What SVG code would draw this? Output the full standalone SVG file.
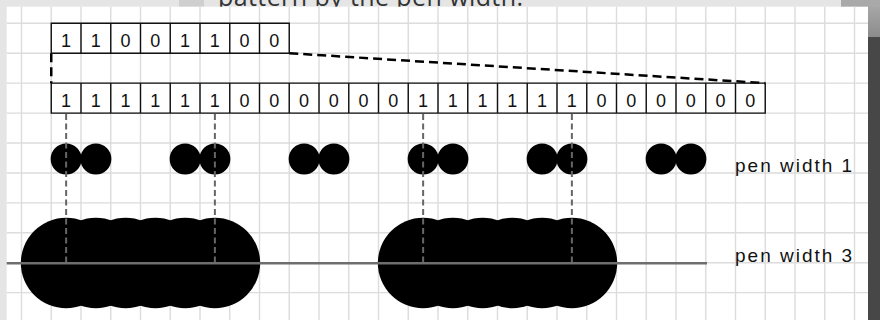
<svg xmlns="http://www.w3.org/2000/svg" width="880" height="320" viewBox="0 0 880 320">
  <style>
    .grid { stroke: #dcdcdc; stroke-width: 1.4; fill: none; }
    .cell { fill: none; stroke: #111; stroke-width: 1.4; }
    .bit { font-family: "Liberation Sans", Arial, sans-serif; font-size: 18px; fill: #111; text-anchor: middle; }
    .lbl { font-family: "Liberation Sans", Arial, sans-serif; font-size: 19px; fill: #111; letter-spacing: 2px; }
    .link { fill: none; stroke: #000; stroke-width: 2.5; stroke-dasharray: 9 5; }
    .guide { fill: none; stroke: #666; stroke-width: 2; stroke-dasharray: 6 3.5; }
    .axis { stroke: #6e6e6e; stroke-width: 2.5; }
    .dot { fill: #000; }
  </style>
  <defs>
    <linearGradient id="strip" x1="0" y1="0" x2="0" y2="1">
      <stop offset="0" stop-color="#a6a6a6"/>
      <stop offset="1" stop-color="#8c8c8c"/>
    </linearGradient>
  </defs>

  <!-- page background -->
  <rect x="0" y="0" width="880" height="320" fill="#e5e5e5"/>
  <rect x="179" y="0" width="25" height="7" fill="#cfcfcf"/>
  <text x="218" y="5.5" font-family="Open Sans, sans-serif" font-size="25" textLength="305" fill="#333">pattern by the pen width.</text>
  <rect x="841" y="0" width="39" height="7" fill="#a9a9a9"/>
  <rect x="868" y="7" width="12" height="30" fill="url(#strip)"/>
  <rect x="868" y="37" width="12" height="283" fill="#474747"/>

  <!-- canvas -->
  <rect x="6.7" y="6.7" width="861.3" height="313.3" fill="#fff"/>
  <path class="grid" d="M21.5 6.7V320M51.25 6.7V320M81 6.7V320M110.75 6.7V320M140.5 6.7V320M170.25 6.7V320M200 6.7V320M229.75 6.7V320M259.5 6.7V320M289.25 6.7V320M319 6.7V320M348.75 6.7V320M378.5 6.7V320M408.25 6.7V320M438 6.7V320M467.75 6.7V320M497.5 6.7V320M527.25 6.7V320M557 6.7V320M586.75 6.7V320M616.5 6.7V320M646.25 6.7V320M676 6.7V320M705.75 6.7V320M735.5 6.7V320M765.25 6.7V320M795 6.7V320M824.75 6.7V320M854.5 6.7V320
    M6.7 23.3H868M6.7 53.23H868M6.7 83.16H868M6.7 113.09H868M6.7 143.02H868M6.7 172.95H868M6.7 202.88H868M6.7 232.81H868M6.7 262.74H868M6.7 292.67H868"/>

  <!-- connectors -->
  <g id="connectors">
    <path class="link" d="M51.25 53.23V83.16"/>
    <path class="link" d="M289.25 53.23L765.25 83.16"/>
  </g>

  <!-- pattern row -->
  <g id="pattern">
    <path class="cell" d="M51.25 23.3H289.25V53.23H51.25Z M81 23.3V53.23M110.75 23.3V53.23M140.5 23.3V53.23M170.25 23.3V53.23M200 23.3V53.23M229.75 23.3V53.23M259.5 23.3V53.23"/>
    <text class="bit" x="66.13" y="47">1</text>
    <text class="bit" x="95.88" y="47">1</text>
    <text class="bit" x="125.63" y="47">0</text>
    <text class="bit" x="155.38" y="47">0</text>
    <text class="bit" x="185.13" y="47">1</text>
    <text class="bit" x="214.88" y="47">1</text>
    <text class="bit" x="244.63" y="47">0</text>
    <text class="bit" x="274.38" y="47">0</text>
  </g>

  <!-- scaled row -->
  <g id="scaled">
    <path class="cell" d="M51.25 83.16H765.25V113.09H51.25Z M81 83.16V113.09M110.75 83.16V113.09M140.5 83.16V113.09M170.25 83.16V113.09M200 83.16V113.09M229.75 83.16V113.09M259.5 83.16V113.09M289.25 83.16V113.09M319 83.16V113.09M348.75 83.16V113.09M378.5 83.16V113.09M408.25 83.16V113.09M438 83.16V113.09M467.75 83.16V113.09M497.5 83.16V113.09M527.25 83.16V113.09M557 83.16V113.09M586.75 83.16V113.09M616.5 83.16V113.09M646.25 83.16V113.09M676 83.16V113.09M705.75 83.16V113.09M735.5 83.16V113.09"/>
    <text class="bit" x="66.13" y="106.5">1</text>
    <text class="bit" x="95.88" y="106.5">1</text>
    <text class="bit" x="125.63" y="106.5">1</text>
    <text class="bit" x="155.38" y="106.5">1</text>
    <text class="bit" x="185.13" y="106.5">1</text>
    <text class="bit" x="214.88" y="106.5">1</text>
    <text class="bit" x="244.63" y="106.5">0</text>
    <text class="bit" x="274.38" y="106.5">0</text>
    <text class="bit" x="304.13" y="106.5">0</text>
    <text class="bit" x="333.88" y="106.5">0</text>
    <text class="bit" x="363.63" y="106.5">0</text>
    <text class="bit" x="393.38" y="106.5">0</text>
    <text class="bit" x="423.13" y="106.5">1</text>
    <text class="bit" x="452.88" y="106.5">1</text>
    <text class="bit" x="482.63" y="106.5">1</text>
    <text class="bit" x="512.38" y="106.5">1</text>
    <text class="bit" x="542.13" y="106.5">1</text>
    <text class="bit" x="571.88" y="106.5">1</text>
    <text class="bit" x="601.63" y="106.5">0</text>
    <text class="bit" x="631.38" y="106.5">0</text>
    <text class="bit" x="661.13" y="106.5">0</text>
    <text class="bit" x="690.88" y="106.5">0</text>
    <text class="bit" x="720.63" y="106.5">0</text>
    <text class="bit" x="750.38" y="106.5">0</text>
  </g>

  <!-- pen width 1 -->
  <g id="pen1">
    <circle class="dot" cx="66.13" cy="159" r="15.5"/>
    <circle class="dot" cx="95.88" cy="159" r="15.5"/>
    <circle class="dot" cx="185.13" cy="159" r="15.5"/>
    <circle class="dot" cx="214.88" cy="159" r="15.5"/>
    <circle class="dot" cx="304.13" cy="159" r="15.5"/>
    <circle class="dot" cx="333.88" cy="159" r="15.5"/>
    <circle class="dot" cx="423.13" cy="159" r="15.5"/>
    <circle class="dot" cx="452.88" cy="159" r="15.5"/>
    <circle class="dot" cx="542.13" cy="159" r="15.5"/>
    <circle class="dot" cx="571.88" cy="159" r="15.5"/>
    <circle class="dot" cx="661.13" cy="159" r="15.5"/>
    <circle class="dot" cx="690.88" cy="159" r="15.5"/>
  </g>

  <!-- pen width 3 -->
  <g id="pen3">
    <circle class="dot" cx="66.13" cy="263" r="45.3"/>
    <circle class="dot" cx="95.88" cy="263" r="45.3"/>
    <circle class="dot" cx="125.63" cy="263" r="45.3"/>
    <circle class="dot" cx="155.38" cy="263" r="45.3"/>
    <circle class="dot" cx="185.13" cy="263" r="45.3"/>
    <circle class="dot" cx="214.88" cy="263" r="45.3"/>
    <circle class="dot" cx="423.13" cy="263" r="45.3"/>
    <circle class="dot" cx="452.88" cy="263" r="45.3"/>
    <circle class="dot" cx="482.63" cy="263" r="45.3"/>
    <circle class="dot" cx="512.38" cy="263" r="45.3"/>
    <circle class="dot" cx="542.13" cy="263" r="45.3"/>
    <circle class="dot" cx="571.88" cy="263" r="45.3"/>
  </g>

  <g id="guides">
    <path class="guide" d="M66.13 114V263M214.88 114V263M423.13 114V263M571.88 114V263"/>
    <path class="axis" d="M6.7 263.3H707"/>
  </g>

  <g id="labels">
    <text class="lbl" x="735" y="172.3">pen width 1</text>
    <text class="lbl" x="735" y="261.7">pen width 3</text>
  </g>
</svg>
